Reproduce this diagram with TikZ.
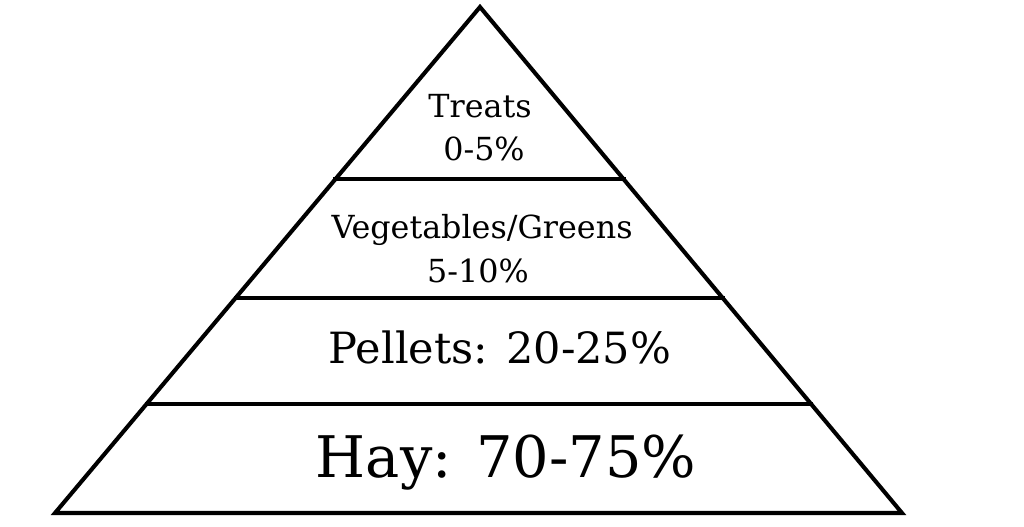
\documentclass[tikz,border=0pt]{standalone}
\usepackage{fontspec}
\setmainfont{DejaVu Serif}
\usepackage{tikz}
\usetikzlibrary{calc}

\tikzset{
    edge/.style={line width=2.9pt, line join=miter, line cap=rect},
    small label/.style={anchor=base, font=\fontsize{22.6}{27}\selectfont},
    mid label/.style={anchor=base, font=\fontsize{30.6}{36}\selectfont},
    big label/.style={anchor=base, font=\fontsize{40.8}{48}\selectfont}
}

\begin{document}
\begin{tikzpicture}[x=0.025cm, y=-0.025cm]
            \useasboundingbox (0,0) rectangle (1024,526);
            \coordinate (apex) at (480,7);
            \coordinate (bl) at (55,513);
            \coordinate (br) at (902,513);
            \draw[edge] (bl) -- (apex) -- (br) -- cycle;
            \foreach \t/\name in {0.2154/a, 0.4249/b, 0.660/c}
                \draw[edge] ($(bl)!\t!(apex)$) coordinate (l\name) -- ($(br)!\t!(apex)$) coordinate (r\name);
            \node[small label] (treats) at (480,117) {Treats};
            \node[small label] (treatspct) at (484,160) {0-5\%};
            \node[small label] (veg) at (482,238) {Vegetables/Greens};
            \node[small label] (vegpct) at (478,282) {5-10\%};
            \node[mid label] (pellets) at (500,363) {Pellets: 20-25\%};
            \node[big label] (hay) at (506,477) {Hay: 70-75\%};
        \end{tikzpicture}
\end{document}
